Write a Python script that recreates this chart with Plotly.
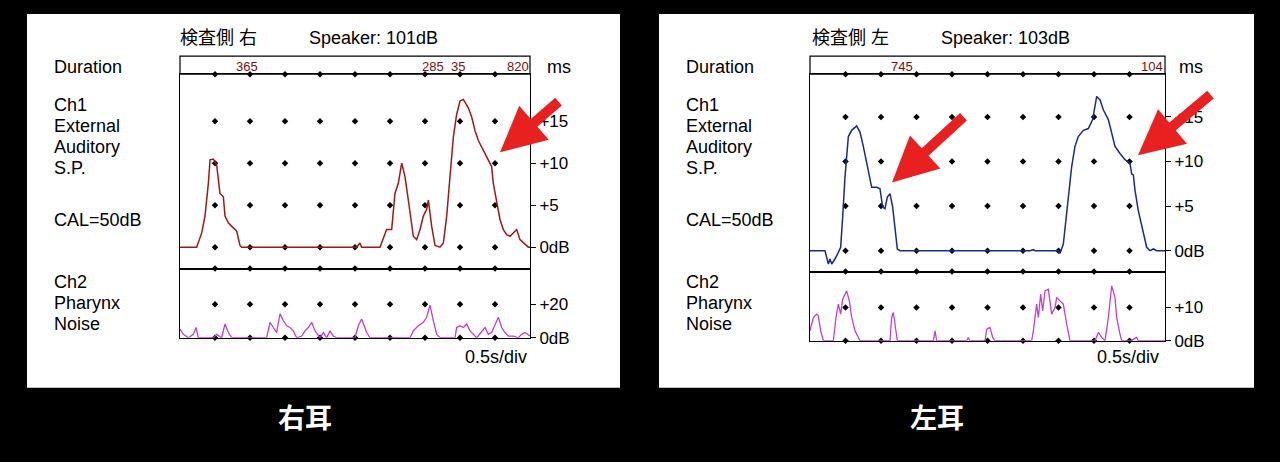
import plotly.graph_objects as go

# ---- data: time in seconds (0.5 s/div, 10 div), levels in dB ----
right_ch1_t = [0, 0.238, 0.310, 0.357, 0.405, 0.429, 0.476, 0.524, 0.571, 0.619, 0.643, 0.690, 0.762, 0.810,
               0.857, 0.881, 2.524, 2.571, 2.595, 2.857, 2.952, 3.024, 3.071, 3.119, 3.167, 3.214, 3.262, 3.333,
               3.381, 3.429, 3.476, 3.524, 3.548, 3.595, 3.643, 3.714, 3.762, 3.810, 3.857, 3.905, 3.952, 4.0,
               4.048, 4.119, 4.167, 4.214, 4.262, 4.310, 4.381, 4.429, 4.452, 4.476, 4.524, 4.571, 4.619, 4.667,
               4.714, 4.762, 4.810, 4.857, 4.905, 4.976, 5.0]
right_ch1_db = [0, 0, 1.7, 3.7, 7.6, 10.4, 10.5, 9.8, 6.4, 6.0, 3.7, 2.9, 2.3, 1.9,
                0.2, 0, 0, 0.5, 0, 0, 2.1, 2.1, 6.4, 7.6, 10.0, 8.4, 5.6, 1.3,
                0.9, 2.1, 3.7, 4.5, 5.6, 2.5, 0.2, 0, 0.5, 3.7, 8.4, 13.1, 15.8, 17.4,
                17.6, 16.6, 15.5, 13.9, 12.7, 11.9, 10.7, 10.0, 9.6, 7.6, 5.3, 3.3, 2.1, 1.5,
                1.3, 1.7, 2.1, 0.9, 0.5, 0, 0]

right_ch2_t = [0, 0.048, 0.119, 0.190, 0.229, 0.262, 0.476, 0.524, 0.595, 0.643, 0.690, 0.738, 1.238, 1.286,
               1.333, 1.381, 1.429, 1.476, 1.524, 1.571, 1.619, 1.667, 1.738, 1.786, 1.833, 1.881, 1.929, 2.0,
               2.048, 2.095, 2.143, 2.190, 2.238, 2.5, 2.548, 2.595, 2.667, 2.714, 3.286, 3.333, 3.405, 3.476,
               3.524, 3.571, 3.619, 3.667, 3.714, 3.929, 3.952, 4.0, 4.048, 4.095, 4.143, 4.190, 4.238, 4.357,
               4.405, 4.452, 4.5, 4.548, 4.595, 4.643, 4.690, 4.762, 4.833, 4.881, 4.929, 5.0]
right_ch2_db = [5.1, 2.0, 0, 2.0, 6.1, 0, 0, 2.0, 0, 8.2, 3.1, 0, 0, 9.2,
                6.1, 3.1, 14.3, 10.2, 7.1, 6.1, 4.1, 0, 1.0, 4.1, 6.1, 9.2, 4.1, 0,
                3.1, 0, 4.1, 1.0, 0, 0, 7.1, 11.2, 3.1, 0, 0, 4.1, 7.1, 9.2,
                12.2, 19.4, 10.2, 2.0, 0, 0, 6.1, 7.1, 6.1, 8.2, 4.1, 2.0, 0, 6.1,
                2.0, 3.1, 8.2, 12.2, 6.1, 3.1, 1.0, 1.0, 0, 2.0, 3.1, 1.0]

left_ch1_t = [0, 0.211, 0.258, 0.282, 0.305, 0.352, 0.399, 0.432, 0.460, 0.493, 0.540, 0.587, 0.657, 0.704,
              0.751, 0.798, 0.845, 0.869, 0.939, 0.986, 1.023, 1.056, 1.089, 1.127, 1.164, 1.197, 1.230, 1.268,
              3.099, 3.146, 3.169, 3.498, 3.521, 3.568, 3.592, 3.638, 3.685, 3.732, 3.779, 3.850, 3.920, 3.981,
              4.038, 4.085, 4.131, 4.202, 4.249, 4.296, 4.366, 4.437, 4.507, 4.531, 4.554, 4.577, 4.624, 4.695,
              4.742, 4.789, 4.836, 4.883, 5.0]
left_ch1_db = [0, 0, -1.5, -0.94, -1.5, -0.94, -0.19, 0.38, 3.76, 8.27, 12.8, 13.5, 14.0, 13.3,
               11.7, 9.8, 8.27, 7.1, 7.1, 6.95, 4.9, 4.7, 6.0, 6.4, 4.9, 2.6, 0.19, 0,
               0, 0.11, 0, 0, -0.3, 0.75, 2.6, 5.6, 9.4, 11.7, 12.8, 13.5, 13.7, 14.7,
               17.3, 16.9, 15.8, 14.7, 13.2, 11.7, 10.9, 10.2, 9.8, 8.6, 8.5, 6.8, 4.5, 1.9,
               0.38, 0, 0.19, 0, 0]

left_ch2_t = [0, 0.047, 0.094, 0.117, 0.150, 0.188, 0.329, 0.366, 0.399, 0.432, 0.460, 0.516, 0.554, 0.587,
              0.634, 0.704, 1.127, 1.150, 1.174, 1.197, 1.230, 1.737, 1.761, 1.784, 2.207, 2.230, 2.254, 2.465,
              2.488, 2.535, 2.573, 2.606, 3.122, 3.146, 3.192, 3.216, 3.249, 3.277, 3.310, 3.357, 3.380, 3.404,
              3.451, 3.474, 3.521, 3.568, 3.615, 3.662, 4.014, 4.061, 4.108, 4.155, 4.202, 4.249, 4.296, 4.319,
              4.366, 4.390, 4.531, 4.554, 4.601, 4.624, 5.0]
left_ch2_db = [3, 7, 8, 7.5, 3, 0, 0, 7, 11, 8, 12.5, 15, 12, 7,
               3, 0, 0, 7, 8.5, 5, 0, 0, 3, 0, 0, 1, 0, 0,
               3.5, 4, 1, 0, 0, 3, 11, 7, 14, 9, 15, 15.5, 11, 8,
               10, 13, 12, 11, 5, 0, 0, 2.5, 1, 0, 7, 16.5, 13, 7,
               2, 0, 0, 0.5, 1, 0, 0]

div_t = [0.5, 1.0, 1.5, 2.0, 2.5, 3.0, 3.5, 4.0, 4.5]
durations_right = [("365", 0.96), ("285", 3.62), ("35", 3.97), ("820", 4.83)]
durations_left = [("745", 1.30), ("104", 4.82)]

RED = "#a01818"
BLUE = "#1a2a8a"
MAG = "#c040d0"
FONT = "Liberation Sans, Noto Sans CJK JP"
H = 451  # visible page height


def py(v):
    return 1 - v / H


panels = [
    dict(xd=[180 / 1280, 530 / 1280], y1=[py(268), py(74)], y2=[py(337), py(268)],
         r1=[-2.55, 20.6], r2=[0, 41.2], t2=[0, 20], tt2=["0dB", "+20"],
         c1=(right_ch1_t, right_ch1_db), c2=(right_ch2_t, right_ch2_db), col=RED,
         durs=durations_right, left_px=27, right_px=620),
    dict(xd=[810 / 1280, 1165 / 1280], y1=[py(271), py(74)], y2=[py(340), py(271)],
         r1=[-2.35, 19.8], r2=[0, 20.8], t2=[0, 10], tt2=["0dB", "+10"],
         c1=(left_ch1_t, left_ch1_db), c2=(left_ch2_t, left_ch2_db), col=BLUE,
         durs=durations_left, left_px=659, right_px=1254),
]

fig = go.Figure()
layout = {}
shapes = []
annos = []

for i, p in enumerate(panels):
    xa = 2 * i + 1
    ya1, ya2 = 2 * i + 1, 2 * i + 2
    xn1 = "x" if xa == 1 else f"x{xa}"
    xn2 = f"x{xa + 1}"
    yn1 = "y" if ya1 == 1 else f"y{ya1}"
    yn2 = f"y{ya2}"
    axis_common = dict(showgrid=False, zeroline=False, showline=True, linecolor="black", linewidth=1,
                       mirror=True, range=[0, 5], showticklabels=False, ticks="")
    layout["xaxis" if xa == 1 else f"xaxis{xa}"] = dict(axis_common, domain=p["xd"], anchor=yn1)
    layout[f"xaxis{xa + 1}"] = dict(axis_common, domain=p["xd"], anchor=yn2)
    ycommon = dict(showgrid=False, zeroline=False, showline=True, linecolor="black", linewidth=1,
                   mirror=True, side="right", ticks="outside", ticklen=5, tickcolor="black",
                   tickfont=dict(family=FONT, size=17, color="black"))
    layout["yaxis" if ya1 == 1 else f"yaxis{ya1}"] = dict(ycommon, domain=p["y1"], anchor=xn1, range=p["r1"],
                                                          tickvals=[0, 5, 10, 15],
                                                          ticktext=["0dB", "+5", "+10", "+15"])
    layout[f"yaxis{ya2}"] = dict(ycommon, domain=p["y2"], anchor=xn2, range=p["r2"],
                                 tickvals=p["t2"], ticktext=p["tt2"])

    # dot grid
    rows1 = [0, 5, 10, 15, p["r1"][1], p["r1"][0]]
    gx = [t for r in rows1 for t in div_t]
    gy = [r for r in rows1 for t in div_t]
    fig.add_trace(go.Scatter(x=gx, y=gy, mode="markers", xaxis=xn1, yaxis=yn1, cliponaxis=False,
                             marker=dict(symbol="diamond", size=5, color="black"), hoverinfo="skip"))
    rows2 = [p["t2"][0], p["t2"][1]]
    fig.add_trace(go.Scatter(x=[t for r in rows2 for t in div_t], y=[r for r in rows2 for t in div_t],
                             mode="markers", xaxis=xn2, yaxis=yn2, cliponaxis=False,
                             marker=dict(symbol="diamond", size=5, color="black"), hoverinfo="skip"))

    fig.add_trace(go.Scatter(x=p["c1"][0], y=p["c1"][1], mode="lines", xaxis=xn1, yaxis=yn1,
                             line=dict(color=p["col"], width=1.5)))
    fig.add_trace(go.Scatter(x=p["c2"][0], y=p["c2"][1], mode="lines", xaxis=xn2, yaxis=yn2,
                             line=dict(color=MAG, width=1.3)))

    # white panel and duration box
    shapes.append(dict(type="rect", xref="paper", yref="paper", layer="below",
                       x0=p["left_px"] / 1280, x1=p["right_px"] / 1280, y0=py(387), y1=py(14),
                       fillcolor="white", line=dict(width=0)))
    shapes.append(dict(type="rect", xref="paper", yref="paper",
                       x0=p["xd"][0], x1=p["xd"][1], y0=p["y1"][1], y1=py(56),
                       line=dict(color="black", width=1.2)))
    for txt, t in p["durs"]:
        annos.append(dict(text=txt, x=t, xref=xn1, y=py(57), yref="paper", yanchor="top",
                          showarrow=False, font=dict(family=FONT, size=13, color="#7a1010")))

    ox = p["left_px"] - 27

    def lab(text, px, pyv, size=18, anchor="left", color="black", bold=False):
        annos.append(dict(text=f"<b>{text}</b>" if bold else text, x=(px + ox) / 1280, y=py(pyv),
                          xref="paper", yref="paper", xanchor=anchor, yanchor="middle", showarrow=False,
                          font=dict(family=FONT, size=size, color=color)))
    lab("検査側 " + ("右" if i == 0 else "左"), 178, 38)
    lab("Speaker: " + ("101dB" if i == 0 else "103dB"), 307, 38)
    lab("Duration", 52, 67)
    lab("ms", 545, 67)
    for k, line in enumerate(["Ch1", "External", "Auditory", "S.P."]):
        lab(line, 52, 105 + k * 21)
    lab("CAL=50dB", 52, 220)
    for k, line in enumerate(["Ch2", "Pharynx", "Noise"]):
        lab(line, 52, 281 + k * 21)
    lab("0.5s/div", 529, 356, anchor="right")
    lab("右耳" if i == 0 else "左耳", 305, 418, size=27, anchor="center", color="white", bold=True)

# red arrows (tail -> head, pixels)
for tail, head in [((560, 100), (500, 152)), ((965, 115), (892, 182)), ((1212, 93), (1138, 155))]:
    annos.append(dict(x=head[0] / 1280, y=py(head[1]), xref="paper", yref="paper",
                      ax=tail[0] - head[0], ay=tail[1] - head[1],
                      showarrow=True, arrowhead=2, arrowsize=0.9, arrowwidth=10, arrowcolor="#e82020",
                      text=""))

fig.update_layout(**layout)
fig.update_layout(autosize=True, margin=dict(l=0, r=0, t=0, b=0),
                  paper_bgcolor="black", plot_bgcolor="white", showlegend=False,
                  shapes=shapes, annotations=annos)

fig.write_html("out.html", config={"displayModeBar": False, "responsive": True},
               default_width="100vw", default_height="100vh",
               post_script="document.body.style.margin='0';document.body.style.background='black';"
                           "document.body.style.overflow='hidden';")
